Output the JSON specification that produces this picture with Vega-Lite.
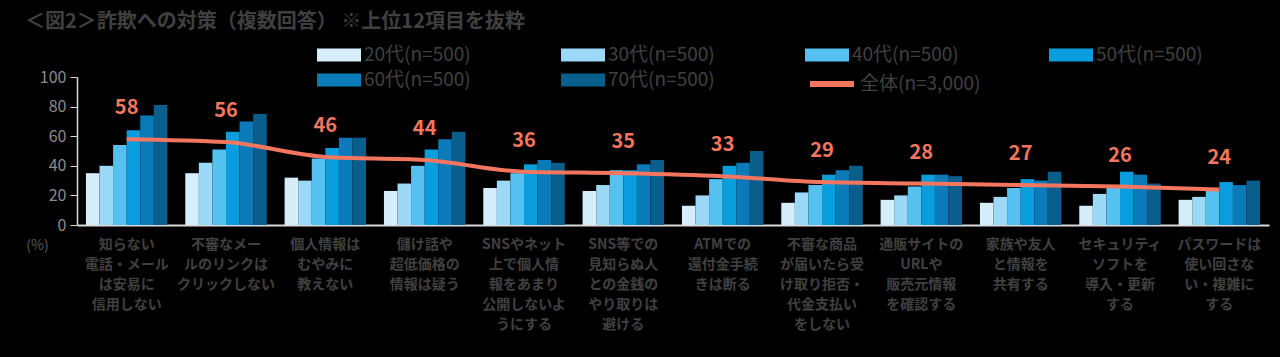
{
  "$schema": "https://vega.github.io/schema/vega-lite/v6.json",
  "width": 1192,
  "height": 148,
  "autosize": {"type": "none"},
  "padding": {"left": 77, "top": 77, "right": 11, "bottom": 132},
  "background": "black",
  "config": {
    "view": {"stroke": null},
    "font": "Noto Sans CJK JP"
  },
  "title": {
    "text": "＜図2＞詐欺への対策（複数回答） ※上位12項目を抜粋",
    "anchor": "start",
    "frame": "group",
    "dx": -52,
    "offset": 12,
    "fontSize": 20,
    "fontWeight": "bold",
    "color": "#404040",
    "font": "Noto Sans CJK JP"
  },
  "datasets": {
    "bars": [
      {"cat": "知らない|電話・メール|は安易に|信用しない", "age": "20代(n=500)", "value": 35},
      {"cat": "知らない|電話・メール|は安易に|信用しない", "age": "30代(n=500)", "value": 40},
      {"cat": "知らない|電話・メール|は安易に|信用しない", "age": "40代(n=500)", "value": 54},
      {"cat": "知らない|電話・メール|は安易に|信用しない", "age": "50代(n=500)", "value": 64},
      {"cat": "知らない|電話・メール|は安易に|信用しない", "age": "60代(n=500)", "value": 74},
      {"cat": "知らない|電話・メール|は安易に|信用しない", "age": "70代(n=500)", "value": 81},
      {"cat": "不審なメー|ルのリンクは|クリックしない", "age": "20代(n=500)", "value": 35},
      {"cat": "不審なメー|ルのリンクは|クリックしない", "age": "30代(n=500)", "value": 42},
      {"cat": "不審なメー|ルのリンクは|クリックしない", "age": "40代(n=500)", "value": 51},
      {"cat": "不審なメー|ルのリンクは|クリックしない", "age": "50代(n=500)", "value": 63},
      {"cat": "不審なメー|ルのリンクは|クリックしない", "age": "60代(n=500)", "value": 70},
      {"cat": "不審なメー|ルのリンクは|クリックしない", "age": "70代(n=500)", "value": 75},
      {"cat": "個人情報は|むやみに|教えない", "age": "20代(n=500)", "value": 32},
      {"cat": "個人情報は|むやみに|教えない", "age": "30代(n=500)", "value": 30},
      {"cat": "個人情報は|むやみに|教えない", "age": "40代(n=500)", "value": 45},
      {"cat": "個人情報は|むやみに|教えない", "age": "50代(n=500)", "value": 52},
      {"cat": "個人情報は|むやみに|教えない", "age": "60代(n=500)", "value": 59},
      {"cat": "個人情報は|むやみに|教えない", "age": "70代(n=500)", "value": 59},
      {"cat": "儲け話や|超低価格の|情報は疑う", "age": "20代(n=500)", "value": 23},
      {"cat": "儲け話や|超低価格の|情報は疑う", "age": "30代(n=500)", "value": 28},
      {"cat": "儲け話や|超低価格の|情報は疑う", "age": "40代(n=500)", "value": 40},
      {"cat": "儲け話や|超低価格の|情報は疑う", "age": "50代(n=500)", "value": 51},
      {"cat": "儲け話や|超低価格の|情報は疑う", "age": "60代(n=500)", "value": 58},
      {"cat": "儲け話や|超低価格の|情報は疑う", "age": "70代(n=500)", "value": 63},
      {"cat": "SNSやネット|上で個人情|報をあまり|公開しないよ|うにする", "age": "20代(n=500)", "value": 25},
      {"cat": "SNSやネット|上で個人情|報をあまり|公開しないよ|うにする", "age": "30代(n=500)", "value": 30},
      {"cat": "SNSやネット|上で個人情|報をあまり|公開しないよ|うにする", "age": "40代(n=500)", "value": 35},
      {"cat": "SNSやネット|上で個人情|報をあまり|公開しないよ|うにする", "age": "50代(n=500)", "value": 41},
      {"cat": "SNSやネット|上で個人情|報をあまり|公開しないよ|うにする", "age": "60代(n=500)", "value": 44},
      {"cat": "SNSやネット|上で個人情|報をあまり|公開しないよ|うにする", "age": "70代(n=500)", "value": 42},
      {"cat": "SNS等での|見知らぬ人|との金銭の|やり取りは|避ける", "age": "20代(n=500)", "value": 23},
      {"cat": "SNS等での|見知らぬ人|との金銭の|やり取りは|避ける", "age": "30代(n=500)", "value": 27},
      {"cat": "SNS等での|見知らぬ人|との金銭の|やり取りは|避ける", "age": "40代(n=500)", "value": 37},
      {"cat": "SNS等での|見知らぬ人|との金銭の|やり取りは|避ける", "age": "50代(n=500)", "value": 37},
      {"cat": "SNS等での|見知らぬ人|との金銭の|やり取りは|避ける", "age": "60代(n=500)", "value": 41},
      {"cat": "SNS等での|見知らぬ人|との金銭の|やり取りは|避ける", "age": "70代(n=500)", "value": 44},
      {"cat": "ATMでの|還付金手続|きは断る", "age": "20代(n=500)", "value": 13},
      {"cat": "ATMでの|還付金手続|きは断る", "age": "30代(n=500)", "value": 20},
      {"cat": "ATMでの|還付金手続|きは断る", "age": "40代(n=500)", "value": 31},
      {"cat": "ATMでの|還付金手続|きは断る", "age": "50代(n=500)", "value": 40},
      {"cat": "ATMでの|還付金手続|きは断る", "age": "60代(n=500)", "value": 42},
      {"cat": "ATMでの|還付金手続|きは断る", "age": "70代(n=500)", "value": 50},
      {"cat": "不審な商品|が届いたら受|け取り拒否・|代金支払い|をしない", "age": "20代(n=500)", "value": 15},
      {"cat": "不審な商品|が届いたら受|け取り拒否・|代金支払い|をしない", "age": "30代(n=500)", "value": 22},
      {"cat": "不審な商品|が届いたら受|け取り拒否・|代金支払い|をしない", "age": "40代(n=500)", "value": 27},
      {"cat": "不審な商品|が届いたら受|け取り拒否・|代金支払い|をしない", "age": "50代(n=500)", "value": 34},
      {"cat": "不審な商品|が届いたら受|け取り拒否・|代金支払い|をしない", "age": "60代(n=500)", "value": 37},
      {"cat": "不審な商品|が届いたら受|け取り拒否・|代金支払い|をしない", "age": "70代(n=500)", "value": 40},
      {"cat": "通販サイトの|URLや|販売元情報|を確認する", "age": "20代(n=500)", "value": 17},
      {"cat": "通販サイトの|URLや|販売元情報|を確認する", "age": "30代(n=500)", "value": 20},
      {"cat": "通販サイトの|URLや|販売元情報|を確認する", "age": "40代(n=500)", "value": 26},
      {"cat": "通販サイトの|URLや|販売元情報|を確認する", "age": "50代(n=500)", "value": 34},
      {"cat": "通販サイトの|URLや|販売元情報|を確認する", "age": "60代(n=500)", "value": 34},
      {"cat": "通販サイトの|URLや|販売元情報|を確認する", "age": "70代(n=500)", "value": 33},
      {"cat": "家族や友人|と情報を|共有する", "age": "20代(n=500)", "value": 15},
      {"cat": "家族や友人|と情報を|共有する", "age": "30代(n=500)", "value": 19},
      {"cat": "家族や友人|と情報を|共有する", "age": "40代(n=500)", "value": 25},
      {"cat": "家族や友人|と情報を|共有する", "age": "50代(n=500)", "value": 31},
      {"cat": "家族や友人|と情報を|共有する", "age": "60代(n=500)", "value": 30},
      {"cat": "家族や友人|と情報を|共有する", "age": "70代(n=500)", "value": 36},
      {"cat": "セキュリティ|ソフトを|導入・更新|する", "age": "20代(n=500)", "value": 13},
      {"cat": "セキュリティ|ソフトを|導入・更新|する", "age": "30代(n=500)", "value": 21},
      {"cat": "セキュリティ|ソフトを|導入・更新|する", "age": "40代(n=500)", "value": 25},
      {"cat": "セキュリティ|ソフトを|導入・更新|する", "age": "50代(n=500)", "value": 36},
      {"cat": "セキュリティ|ソフトを|導入・更新|する", "age": "60代(n=500)", "value": 34},
      {"cat": "セキュリティ|ソフトを|導入・更新|する", "age": "70代(n=500)", "value": 28},
      {"cat": "パスワードは|使い回さな|い・複雑に|する", "age": "20代(n=500)", "value": 17},
      {"cat": "パスワードは|使い回さな|い・複雑に|する", "age": "30代(n=500)", "value": 19},
      {"cat": "パスワードは|使い回さな|い・複雑に|する", "age": "40代(n=500)", "value": 23},
      {"cat": "パスワードは|使い回さな|い・複雑に|する", "age": "50代(n=500)", "value": 29},
      {"cat": "パスワードは|使い回さな|い・複雑に|する", "age": "60代(n=500)", "value": 27},
      {"cat": "パスワードは|使い回さな|い・複雑に|する", "age": "70代(n=500)", "value": 30}
    ],
    "totals": [
      {"cat": "知らない|電話・メール|は安易に|信用しない", "series": "全体(n=3,000)", "total": 58},
      {"cat": "不審なメー|ルのリンクは|クリックしない", "series": "全体(n=3,000)", "total": 56},
      {"cat": "個人情報は|むやみに|教えない", "series": "全体(n=3,000)", "total": 46},
      {"cat": "儲け話や|超低価格の|情報は疑う", "series": "全体(n=3,000)", "total": 44},
      {"cat": "SNSやネット|上で個人情|報をあまり|公開しないよ|うにする", "series": "全体(n=3,000)", "total": 36},
      {"cat": "SNS等での|見知らぬ人|との金銭の|やり取りは|避ける", "series": "全体(n=3,000)", "total": 35},
      {"cat": "ATMでの|還付金手続|きは断る", "series": "全体(n=3,000)", "total": 33},
      {"cat": "不審な商品|が届いたら受|け取り拒否・|代金支払い|をしない", "series": "全体(n=3,000)", "total": 29},
      {"cat": "通販サイトの|URLや|販売元情報|を確認する", "series": "全体(n=3,000)", "total": 28},
      {"cat": "家族や友人|と情報を|共有する", "series": "全体(n=3,000)", "total": 27},
      {"cat": "セキュリティ|ソフトを|導入・更新|する", "series": "全体(n=3,000)", "total": 26},
      {"cat": "パスワードは|使い回さな|い・複雑に|する", "series": "全体(n=3,000)", "total": 24}
    ]
  },
  "layer": [
    {
      "data": {"name": "bars"},
      "mark": {"type": "bar"},
      "encoding": {
        "x": {
          "field": "cat", "type": "nominal", "sort": null,
          "scale": {"paddingInner": 0.18, "paddingOuter": 0.09},
          "axis": {
            "title": null,
            "labelExpr": "split(datum.label, '|')",
            "labelAngle": 0,
            "labelAlign": "center",
            "labelBaseline": "top",
            "labelPadding": 12,
            "labelFontSize": 14,
            "labelLineHeight": 20,
            "labelColor": "#404040",
            "labelFontWeight": "bold",
            "labelLimit": 0,
            "labelOverlap": false,
            "ticks": false,
            "domainColor": "#d9d9d9",
            "domainWidth": 2
          }
        },
        "xOffset": {"field": "age", "type": "nominal", "sort": null, "scale": {"paddingInner": 0, "paddingOuter": 0}},
        "y": {
          "field": "value", "type": "quantitative",
          "scale": {"domain": [0, 100], "nice": false},
          "axis": {
            "values": [0, 20, 40, 60, 80, 100],
            "tickCount": 6,
            "labelOverlap": false,
            "labelFlush": false,
            "grid": false,
            "domainColor": "#d9d9d9",
            "domainWidth": 1.5,
            "tickColor": "#d9d9d9",
            "tickSize": 7,
            "labelFontSize": 16,
            "labelColor": "#8c8c8c",
            "labelPadding": 4,
            "title": "(%)",
            "titleAngle": 0,
            "titleX": -40,
            "titleY": 168,
            "titleAlign": "center",
            "titleBaseline": "middle",
            "titleFontSize": 14,
            "titleFontWeight": "normal",
            "titleColor": "#5a5a5a"
          }
        },
        "fill": {
          "field": "age", "type": "nominal", "sort": null,
          "scale": {
            "domain": ["20代(n=500)", "30代(n=500)", "40代(n=500)", "50代(n=500)", "60代(n=500)", "70代(n=500)"],
            "range": ["#D5EEFA", "#9CD9F7", "#55C1F0", "#0A9DDD", "#0A7AB8", "#0A5E8C"]
          },
          "legend": {
            "title": null,
            "orient": "none",
            "legendX": 251,
            "legendY": -33,
            "direction": "horizontal",
            "columns": 4,
            "columnPadding": 90,
            "rowPadding": 4,
            "symbolType": "M-2,-0.6H2V0.6H-2Z",
            "symbolSize": 484,
            "symbolStrokeWidth": 0,
            "symbolOpacity": 1,
            "labelFontSize": 19,
            "labelColor": "#404040",
            "labelOffset": 14
          }
        }
      }
    },
    {
      "data": {"name": "totals"},
      "mark": {"type": "line", "interpolate": "monotone", "strokeWidth": 4},
      "encoding": {
        "x": {"field": "cat", "type": "nominal", "sort": null},
        "y": {
          "field": "total", "type": "quantitative",
          "scale": {"domain": [0, 100], "nice": false},
          "axis": {
            "values": [0, 20, 40, 60, 80, 100],
            "tickCount": 6,
            "labelOverlap": false,
            "labelFlush": false,
            "grid": false,
            "domainColor": "#d9d9d9",
            "domainWidth": 1.5,
            "tickColor": "#d9d9d9",
            "tickSize": 7,
            "labelFontSize": 16,
            "labelColor": "#8c8c8c",
            "labelPadding": 4,
            "title": "(%)",
            "titleAngle": 0,
            "titleX": -40,
            "titleY": 168,
            "titleAlign": "center",
            "titleBaseline": "middle",
            "titleFontSize": 14,
            "titleFontWeight": "normal",
            "titleColor": "#5a5a5a"
          }
        },
        "stroke": {
          "field": "series", "type": "nominal",
          "scale": {"domain": ["全体(n=3,000)"], "range": ["#F4765F"]},
          "legend": {
            "title": null,
            "orient": "none",
            "legendX": 741,
            "legendY": -7,
            "symbolType": "M-2,0H2",
            "symbolSize": 484,
            "symbolStrokeWidth": 6,
            "labelFontSize": 19,
            "labelColor": "#404040",
            "labelOffset": 14
          }
        }
      }
    },
    {
      "data": {"name": "totals"},
      "mark": {"type": "text", "dy": -31, "fontSize": 20, "fontWeight": "bold", "color": "#F4765F", "font": "Noto Sans CJK JP"},
      "encoding": {
        "x": {"field": "cat", "type": "nominal", "sort": null},
        "y": {
          "field": "total", "type": "quantitative",
          "scale": {"domain": [0, 100], "nice": false},
          "axis": {
            "values": [0, 20, 40, 60, 80, 100],
            "tickCount": 6,
            "labelOverlap": false,
            "labelFlush": false,
            "grid": false,
            "domainColor": "#d9d9d9",
            "domainWidth": 1.5,
            "tickColor": "#d9d9d9",
            "tickSize": 7,
            "labelFontSize": 16,
            "labelColor": "#8c8c8c",
            "labelPadding": 4,
            "title": "(%)",
            "titleAngle": 0,
            "titleX": -40,
            "titleY": 168,
            "titleAlign": "center",
            "titleBaseline": "middle",
            "titleFontSize": 14,
            "titleFontWeight": "normal",
            "titleColor": "#5a5a5a"
          }
        },
        "text": {"field": "total", "type": "quantitative"}
      }
    }
  ]
}
